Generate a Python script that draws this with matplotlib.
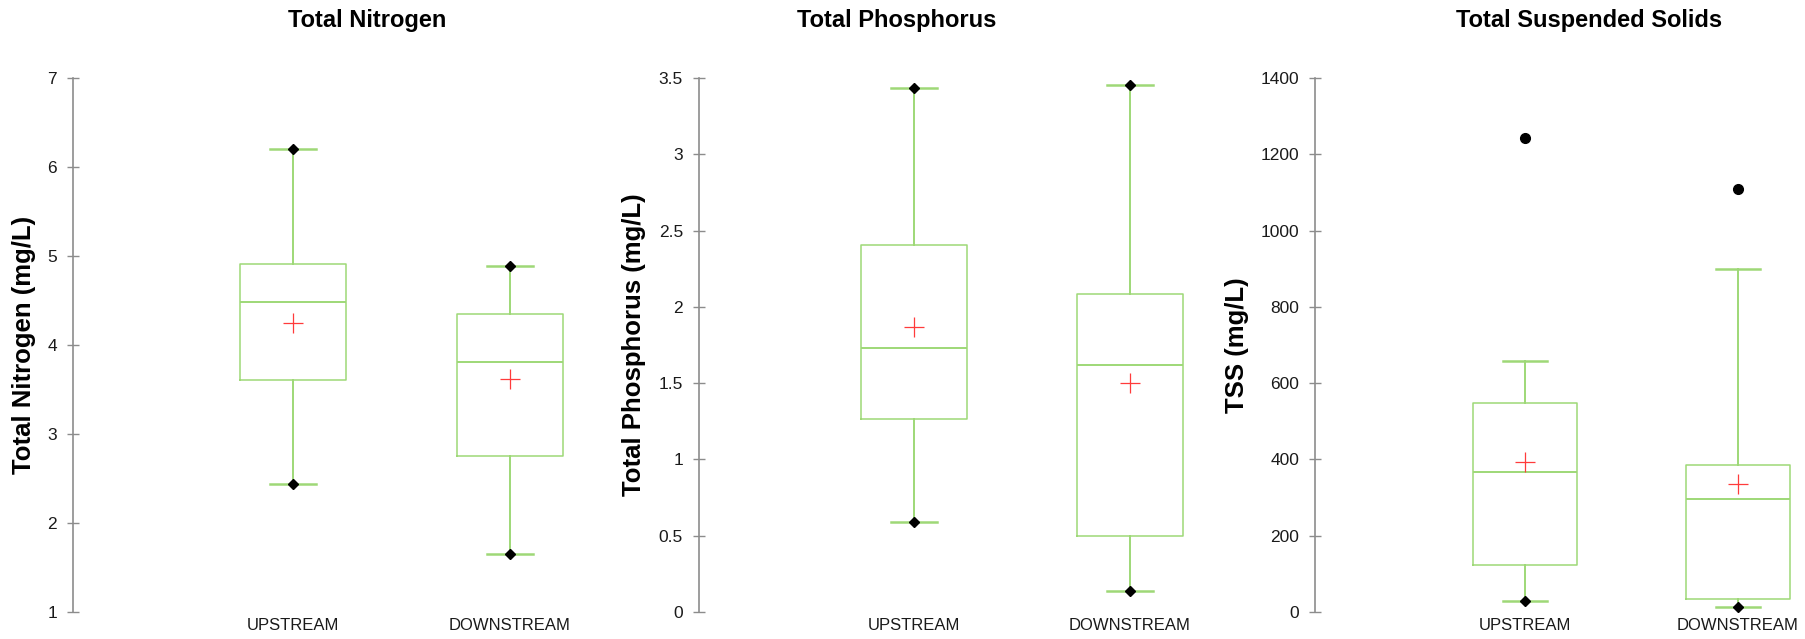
import matplotlib
matplotlib.use("Agg")
import matplotlib.pyplot as plt
from matplotlib.ticker import FuncFormatter, MultipleLocator

categories = ["UPSTREAM", "DOWNSTREAM"]

# Total Nitrogen (mg/L)
tn_whislo = [2.44, 1.65]
tn_q1 = [3.61, 2.75]
tn_med = [4.48, 3.81]
tn_q3 = [4.91, 4.35]
tn_whishi = [6.20, 4.89]
tn_mean = [4.25, 3.62]
tn_fliers = [[], []]

# Total Phosphorus (mg/L)
tp_whislo = [0.59, 0.135]
tp_q1 = [1.267, 0.50]
tp_med = [1.73, 1.617]
tp_q3 = [2.405, 2.085]
tp_whishi = [3.433, 3.455]
tp_mean = [1.87, 1.50]
tp_fliers = [[], []]

# Total Suspended Solids (mg/L)
tss_whislo = [30, 14]
tss_q1 = [124, 33]
tss_med = [366, 295]
tss_q3 = [547, 385]
tss_whishi = [659, 900]
tss_mean = [394, 335]
tss_fliers = [[1243], [1110]]

W, H = 1806, 639
fig = plt.figure(figsize=(W / 100, H / 100), dpi=100)

GREEN = "#9ED877"
RED = "#FF3B3B"
SPINE = "#8C8C8C"
FONT = "Liberation Sans"

top_px, bot_px = 78, 612

panels = [
    dict(title="Total Nitrogen", ylabel="Total Nitrogen (mg/L)",
         data=(tn_whislo, tn_q1, tn_med, tn_q3, tn_whishi, tn_mean, tn_fliers),
         ylim=(1, 7), step=1, spine=73, c1=293, c2=510, title_x=367, ylabel_x=24),
    dict(title="Total Phosphorus", ylabel="Total Phosphorus (mg/L)",
         data=(tp_whislo, tp_q1, tp_med, tp_q3, tp_whishi, tp_mean, tp_fliers),
         ylim=(0, 3.5), step=0.5, spine=699, c1=914, c2=1130, title_x=897, ylabel_x=634),
    dict(title="Total Suspended Solids", ylabel="TSS (mg/L)",
         data=(tss_whislo, tss_q1, tss_med, tss_q3, tss_whishi, tss_mean, tss_fliers),
         ylim=(0, 1400), step=200, spine=1315, c1=1525, c2=1738, title_x=1589, ylabel_x=1237),
]

for p in panels:
    u = p["c2"] - p["c1"]
    xl = 1 - (p["c1"] - p["spine"]) / u
    xr = 2.3
    width_px = (xr - xl) * u
    ax = fig.add_axes([p["spine"] / W, 1 - bot_px / H, width_px / W, (bot_px - top_px) / H])
    whislo, q1, med, q3, whishi, mean, fliers = p["data"]
    stats = []
    for i, lab in enumerate(categories):
        stats.append(dict(label=lab, whislo=whislo[i], q1=q1[i], med=med[i], q3=q3[i],
                          whishi=whishi[i], mean=mean[i], fliers=fliers[i]))
    ax.bxp(stats, positions=[1, 2], widths=0.49, showmeans=True, capwidths=0.21,
           boxprops=dict(color=GREEN, linewidth=1.1),
           medianprops=dict(color=GREEN, linewidth=1.4),
           whiskerprops=dict(color=GREEN, linewidth=1.4),
           capprops=dict(color=GREEN, linewidth=1.8),
           meanprops=dict(marker="+", markeredgecolor=RED, markersize=15, markeredgewidth=0.9),
           flierprops=dict(marker="o", markerfacecolor="black", markeredgecolor="black", markersize=7))
    # diamonds at min and max observed values (max only when not an outlier)
    for i in range(2):
        ax.plot([i + 1], [whislo[i]], marker="D", color="black", markersize=4.8, zorder=5)
        if len(fliers[i]) == 0:
            ax.plot([i + 1], [whishi[i]], marker="D", color="black", markersize=4.8, zorder=5)

    ax.set_xlim(xl, xr)
    ax.set_ylim(*p["ylim"])
    ax.yaxis.set_major_locator(MultipleLocator(p["step"]))
    ax.yaxis.set_major_formatter(FuncFormatter(lambda v, pos: "%g" % v))
    for s in ["top", "right", "bottom"]:
        ax.spines[s].set_visible(False)
    ax.spines["left"].set_color(SPINE)
    ax.spines["left"].set_linewidth(1.2)
    ax.tick_params(axis="y", direction="inout", length=9, width=1.0, color=SPINE,
                   labelsize=12.5, pad=7, labelcolor="#1a1a1a")
    ax.tick_params(axis="x", length=0, labelsize=12, pad=4, labelcolor="#1a1a1a")
    ax.set_xticks([1, 2])
    ax.set_xticklabels(categories)
    for t in ax.get_xticklabels() + ax.get_yticklabels():
        t.set_fontfamily(FONT)
    ax.set_ylabel(p["ylabel"], fontsize=18.5, fontweight="bold", fontfamily=FONT)
    ax.yaxis.set_label_coords(p["ylabel_x"] / W, 1 - ((top_px + bot_px) / 2) / H,
                              transform=fig.transFigure)
    ax.yaxis.label.set_va("center")
    fig.text(p["title_x"] / W, 1 - 20 / H, p["title"], ha="center", va="center",
             fontsize=17, fontweight="bold", fontfamily=FONT)
    ax.patch.set_alpha(0)

fig.savefig("out.png", dpi=100, facecolor="white")
